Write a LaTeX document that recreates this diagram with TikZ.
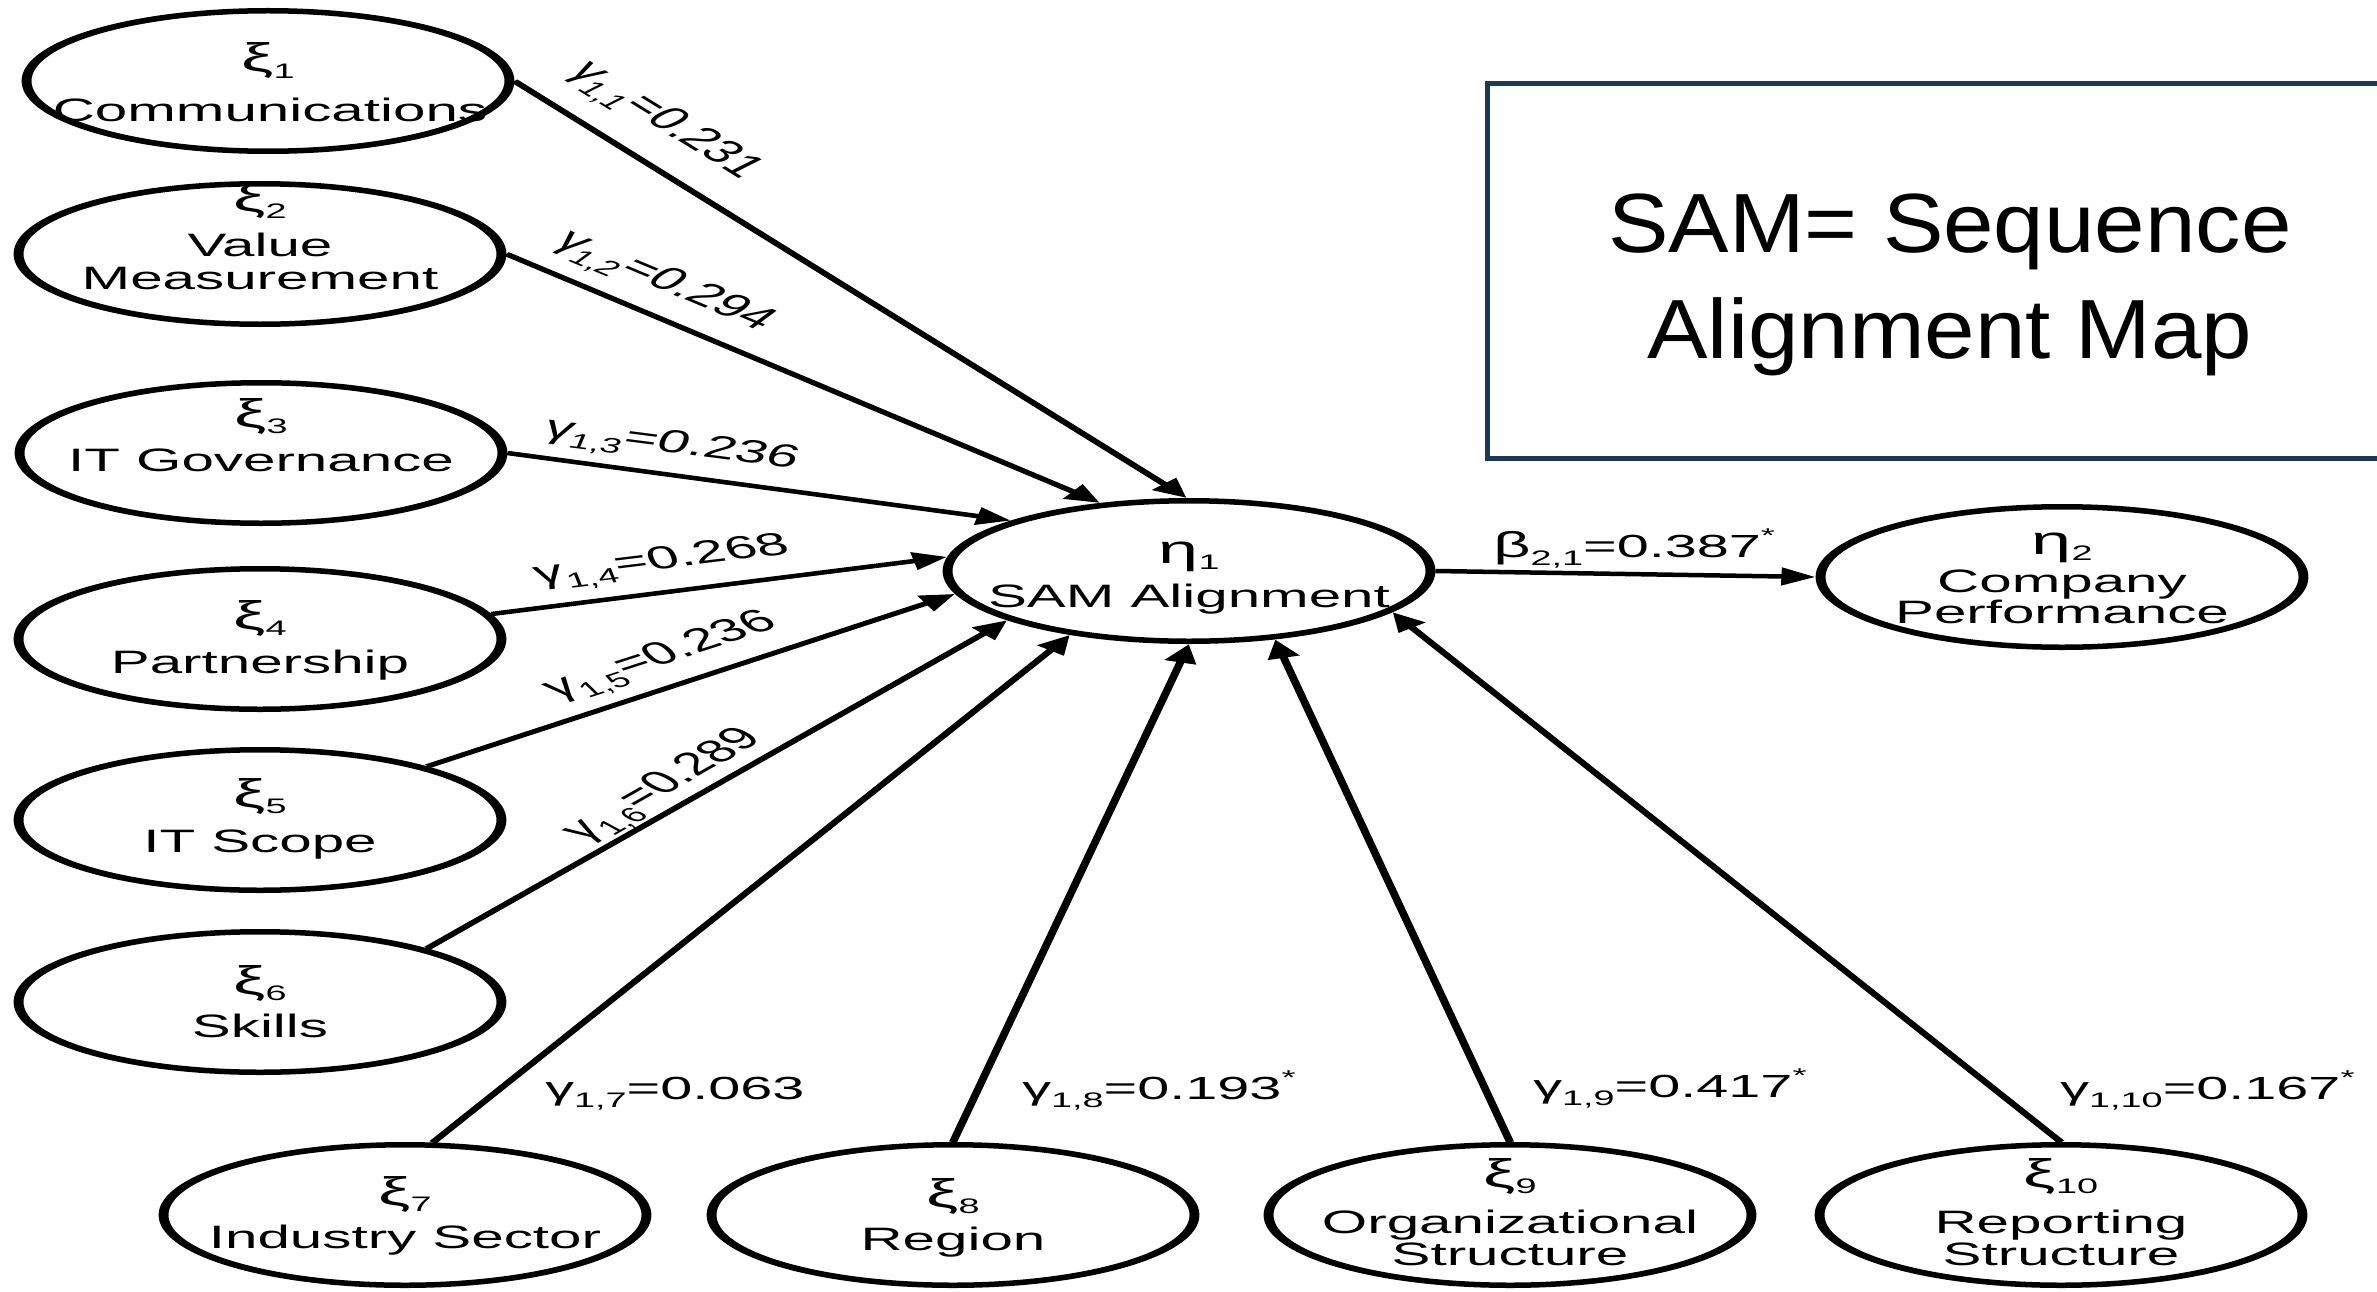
\documentclass[tikz,border=0pt]{standalone}
\usepackage{fontspec}
\usepackage{graphicx}
\setmainfont{Liberation Sans}
\usetikzlibrary{arrows.meta,shapes.geometric}
\definecolor{boxblue}{RGB}{31,56,88}
\newcommand\gsym[1]{{\fontsize{40}{40}\selectfont #1}}
\newcommand\gsub[1]{\raisebox{-0.2em}{\fontsize{21}{21}\selectfont #1}}
\newcommand\lsub[1]{\raisebox{-0.25em}{\fontsize{21}{21}\selectfont #1}}
\newcommand\lsup[1]{\raisebox{0.45em}{\fontsize{20}{20}\selectfont #1}}
\begin{document}
\begin{tikzpicture}[x=1pt,y=-1pt]
\useasboundingbox (0,0) rectangle (2377,1292);
\begin{scope}[transform canvas={xscale=1.8}, x=0.555556pt,
  latent/.style={ellipse, draw, line width=5.5pt, minimum width=268.3pt, minimum height=140.5pt, inner sep=0pt},
  txt/.style={font=\fontsize{32.4}{36}\selectfont, inner sep=0pt, anchor=base},
  lab/.style={font=\fontsize{32}{36}\selectfont, inner sep=0pt},
  link/.style={line width=4.5pt, -{Triangle[length=19pt,width=17pt]}}]
% ellipses
\node[latent] (x1) at (268,81) {};
\node[latent] (x2) at (260,254) {};
\node[latent] (x3) at (261,453) {};
\node[latent] (x4) at (260,639) {};
\node[latent] (x5) at (260,820) {};
\node[latent] (x6) at (260,1002) {};
\node[latent] (x7) at (405,1215) {};
\node[latent] (x8) at (953,1215) {};
\node[latent] (x9) at (1510,1215) {};
\node[latent] (x10) at (2061,1215) {};
\node[latent] (e1) at (1189,571) {};
\node[latent] (e2) at (2062,577) {};
% texts in ellipses
\node[txt] (x1s) at (268,72) {\gsym{ξ}\gsub{1}};
\node[txt] (x1n) at (270,122) {Communications};
\node[txt] (x2s) at (260,212) {\gsym{ξ}\gsub{2}};
\node[txt] (x2n) at (260,256) {Value};
\node[txt] (x2m) at (260,289) {Measurement};
\node[txt] (x3s) at (261,427) {\gsym{ξ}\gsub{3}};
\node[txt] (x3n) at (261,471) {IT Governance};
\node[txt] (x4s) at (260,629) {\gsym{ξ}\gsub{4}};
\node[txt] (x4n) at (260,673) {Partnership};
\node[txt] (x5s) at (260,807) {\gsym{ξ}\gsub{5}};
\node[txt] (x5n) at (260,852) {IT Scope};
\node[txt] (x6s) at (260,994) {\gsym{ξ}\gsub{6}};
\node[txt] (x6n) at (260,1037) {Skills};
\node[txt] (x7s) at (405,1205) {\gsym{ξ}\gsub{7}};
\node[txt] (x7n) at (405,1248) {Industry Sector};
\node[txt] (x8s) at (953,1207) {\gsym{ξ}\gsub{8}};
\node[txt] (x8n) at (953,1250) {Region};
\node[txt] (x9s) at (1510,1187) {\gsym{ξ}\gsub{9}};
\node[txt] (x9n) at (1510,1233) {Organizational};
\node[txt] (x9m) at (1510,1265) {Structure};
\node[txt] (x10s) at (2061,1187) {\gsym{ξ}\gsub{10}};
\node[txt] (x10n) at (2061,1233) {Reporting};
\node[txt] (x10m) at (2061,1265) {Structure};
\node[txt] (e1s) at (1189,563) {\gsym{η}\gsub{1}};
\node[txt] (e1n) at (1189,607) {SAM Alignment};
\node[txt] (e2s) at (2062,554) {\gsym{η}\gsub{2}};
\node[txt] (e2n) at (2062,592) {Company};
\node[txt] (e2m) at (2062,623) {Performance};
% connectors
\draw[link] (x1.east) -- (e1.91);
\draw[link] (x2.east) -- (e1.126);
\draw[link] (x3.east) -- (e1.153);
\draw[link] (x4.11) -- (e1.174);
\draw[link] (x5.30) -- (e1.190);
\draw[link] (x6.30) -- (e1.206);
\draw[link] (x7.78) -- (e1.224);
\draw[link] (x8.north) -- (e1.270);
\draw[link] (x9.north) -- (e1.305);
\draw[link] (x10.north) -- (e1.340);
\draw[link] (e1.east) -- (e2.west);
% labels
\node[lab, rotate=-48] (l1) at (662,122) {γ\lsub{1,1}=0.231};
\node[lab, rotate=-36.9] (l2) at (662,283) {γ\lsub{1,2}=0.294};
\node[lab, rotate=-13.1] (l3) at (671,447) {γ\lsub{1,3}=0.236};
\node[lab, rotate=12.4] (l4) at (663,563) {γ\lsub{1,4}=0.268};
\node[lab, rotate=30.1] (l5) at (663,658) {γ\lsub{1,5}=0.236};
\node[lab, rotate=45.7] (l6) at (666,787) {γ\lsub{1,6}=0.289};
\node[lab, anchor=base west] (l7) at (545,1099) {γ\lsub{1,7}=0.063};
\node[lab, anchor=base west] (l8) at (1022,1099) {γ\lsub{1,8}=0.193\lsup{*}};
\node[lab, anchor=base west] (l9) at (1533,1097) {γ\lsub{1,9}=0.417\lsup{*}};
\node[lab, anchor=base west] (l10) at (2060,1099) {γ\lsub{1,10}=0.167\lsup{*}};
\node[lab, anchor=base west] (lb) at (1493,557) {{\fontsize{36}{36}\selectfont β}\lsub{2,1}=0.387\lsup{*}};
\end{scope}
% legend box
\draw[line width=5pt, draw=boxblue] (2400,84) -- (1487,84) -- (1487,458) -- (2400,458);
\node[anchor=base, inner sep=0pt, font=\fontsize{84}{100}\selectfont] (bt1) at (1950,252) {\scalebox{1.08}[1]{SAM= Sequence}};
\node[anchor=base, inner sep=0pt, font=\fontsize{84}{100}\selectfont] (bt2) at (1950,358) {\scalebox{1.08}[1]{Alignment Map}};
\end{tikzpicture}
\end{document}
